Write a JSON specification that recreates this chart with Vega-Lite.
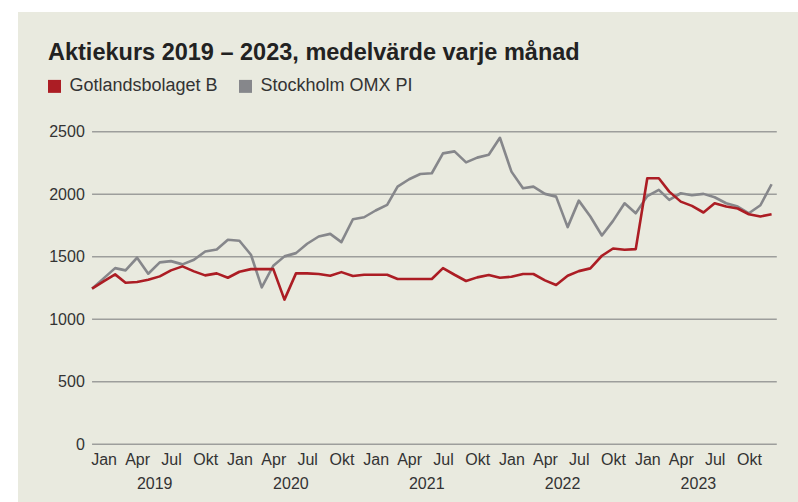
{
  "$schema": "https://vega.github.io/schema/vega-lite/v6.json",
  "width": 780,
  "height": 490,
  "autosize": {"type": "none"},
  "padding": {"left": 18, "top": 12, "right": 0, "bottom": 0},
  "background": "#ffffff",
  "title": {
    "text": "Aktiekurs 2019 – 2023, medelvärde varje månad",
    "anchor": "start",
    "frame": "group",
    "orient": "top",
    "offset": -47,
    "dy": 24,
    "baseline": "alphabetic",
    "dx": 30,
    "font": "Liberation Sans",
    "fontSize": 23.5,
    "fontWeight": "bold",
    "color": "#222222"
  },
  "config": {
    "view": {"fill": "#E9EADF", "stroke": null},
    "font": "Liberation Sans"
  },
  "data": {
    "format": {"parse": {"manad": "date:'%Y-%m'"}},
    "values": [
      {"manad": "2018-12", "serie": "Stockholm OMX PI", "kurs": 1245}, {"manad": "2018-12", "serie": "Gotlandsbolaget B", "kurs": 1245},
      {"manad": "2019-01", "serie": "Stockholm OMX PI", "kurs": 1327}, {"manad": "2019-01", "serie": "Gotlandsbolaget B", "kurs": 1303},
      {"manad": "2019-02", "serie": "Stockholm OMX PI", "kurs": 1409}, {"manad": "2019-02", "serie": "Gotlandsbolaget B", "kurs": 1359},
      {"manad": "2019-03", "serie": "Stockholm OMX PI", "kurs": 1391}, {"manad": "2019-03", "serie": "Gotlandsbolaget B", "kurs": 1292},
      {"manad": "2019-04", "serie": "Stockholm OMX PI", "kurs": 1492}, {"manad": "2019-04", "serie": "Gotlandsbolaget B", "kurs": 1298},
      {"manad": "2019-05", "serie": "Stockholm OMX PI", "kurs": 1364}, {"manad": "2019-05", "serie": "Gotlandsbolaget B", "kurs": 1316},
      {"manad": "2019-06", "serie": "Stockholm OMX PI", "kurs": 1455}, {"manad": "2019-06", "serie": "Gotlandsbolaget B", "kurs": 1343},
      {"manad": "2019-07", "serie": "Stockholm OMX PI", "kurs": 1465}, {"manad": "2019-07", "serie": "Gotlandsbolaget B", "kurs": 1391},
      {"manad": "2019-08", "serie": "Stockholm OMX PI", "kurs": 1439}, {"manad": "2019-08", "serie": "Gotlandsbolaget B", "kurs": 1423},
      {"manad": "2019-09", "serie": "Stockholm OMX PI", "kurs": 1476}, {"manad": "2019-09", "serie": "Gotlandsbolaget B", "kurs": 1383},
      {"manad": "2019-10", "serie": "Stockholm OMX PI", "kurs": 1542}, {"manad": "2019-10", "serie": "Gotlandsbolaget B", "kurs": 1351},
      {"manad": "2019-11", "serie": "Stockholm OMX PI", "kurs": 1558}, {"manad": "2019-11", "serie": "Gotlandsbolaget B", "kurs": 1367},
      {"manad": "2019-12", "serie": "Stockholm OMX PI", "kurs": 1636}, {"manad": "2019-12", "serie": "Gotlandsbolaget B", "kurs": 1332},
      {"manad": "2020-01", "serie": "Stockholm OMX PI", "kurs": 1628}, {"manad": "2020-01", "serie": "Gotlandsbolaget B", "kurs": 1380},
      {"manad": "2020-02", "serie": "Stockholm OMX PI", "kurs": 1516}, {"manad": "2020-02", "serie": "Gotlandsbolaget B", "kurs": 1401},
      {"manad": "2020-03", "serie": "Stockholm OMX PI", "kurs": 1255}, {"manad": "2020-03", "serie": "Gotlandsbolaget B", "kurs": 1401},
      {"manad": "2020-04", "serie": "Stockholm OMX PI", "kurs": 1428}, {"manad": "2020-04", "serie": "Gotlandsbolaget B", "kurs": 1401},
      {"manad": "2020-05", "serie": "Stockholm OMX PI", "kurs": 1503}, {"manad": "2020-05", "serie": "Gotlandsbolaget B", "kurs": 1157},
      {"manad": "2020-06", "serie": "Stockholm OMX PI", "kurs": 1529}, {"manad": "2020-06", "serie": "Gotlandsbolaget B", "kurs": 1367},
      {"manad": "2020-07", "serie": "Stockholm OMX PI", "kurs": 1604}, {"manad": "2020-07", "serie": "Gotlandsbolaget B", "kurs": 1367},
      {"manad": "2020-08", "serie": "Stockholm OMX PI", "kurs": 1662}, {"manad": "2020-08", "serie": "Gotlandsbolaget B", "kurs": 1362},
      {"manad": "2020-09", "serie": "Stockholm OMX PI", "kurs": 1683}, {"manad": "2020-09", "serie": "Gotlandsbolaget B", "kurs": 1348},
      {"manad": "2020-10", "serie": "Stockholm OMX PI", "kurs": 1617}, {"manad": "2020-10", "serie": "Gotlandsbolaget B", "kurs": 1377},
      {"manad": "2020-11", "serie": "Stockholm OMX PI", "kurs": 1800}, {"manad": "2020-11", "serie": "Gotlandsbolaget B", "kurs": 1346},
      {"manad": "2020-12", "serie": "Stockholm OMX PI", "kurs": 1816}, {"manad": "2020-12", "serie": "Gotlandsbolaget B", "kurs": 1356},
      {"manad": "2021-01", "serie": "Stockholm OMX PI", "kurs": 1870}, {"manad": "2021-01", "serie": "Gotlandsbolaget B", "kurs": 1356},
      {"manad": "2021-02", "serie": "Stockholm OMX PI", "kurs": 1915}, {"manad": "2021-02", "serie": "Gotlandsbolaget B", "kurs": 1356},
      {"manad": "2021-03", "serie": "Stockholm OMX PI", "kurs": 2061}, {"manad": "2021-03", "serie": "Gotlandsbolaget B", "kurs": 1322},
      {"manad": "2021-04", "serie": "Stockholm OMX PI", "kurs": 2120}, {"manad": "2021-04", "serie": "Gotlandsbolaget B", "kurs": 1322},
      {"manad": "2021-05", "serie": "Stockholm OMX PI", "kurs": 2162}, {"manad": "2021-05", "serie": "Gotlandsbolaget B", "kurs": 1322},
      {"manad": "2021-06", "serie": "Stockholm OMX PI", "kurs": 2168}, {"manad": "2021-06", "serie": "Gotlandsbolaget B", "kurs": 1322},
      {"manad": "2021-07", "serie": "Stockholm OMX PI", "kurs": 2327}, {"manad": "2021-07", "serie": "Gotlandsbolaget B", "kurs": 1409},
      {"manad": "2021-08", "serie": "Stockholm OMX PI", "kurs": 2343}, {"manad": "2021-08", "serie": "Gotlandsbolaget B", "kurs": 1356},
      {"manad": "2021-09", "serie": "Stockholm OMX PI", "kurs": 2255}, {"manad": "2021-09", "serie": "Gotlandsbolaget B", "kurs": 1306},
      {"manad": "2021-10", "serie": "Stockholm OMX PI", "kurs": 2293}, {"manad": "2021-10", "serie": "Gotlandsbolaget B", "kurs": 1335},
      {"manad": "2021-11", "serie": "Stockholm OMX PI", "kurs": 2316}, {"manad": "2021-11", "serie": "Gotlandsbolaget B", "kurs": 1354},
      {"manad": "2021-12", "serie": "Stockholm OMX PI", "kurs": 2452}, {"manad": "2021-12", "serie": "Gotlandsbolaget B", "kurs": 1332},
      {"manad": "2022-01", "serie": "Stockholm OMX PI", "kurs": 2181}, {"manad": "2022-01", "serie": "Gotlandsbolaget B", "kurs": 1340},
      {"manad": "2022-02", "serie": "Stockholm OMX PI", "kurs": 2048}, {"manad": "2022-02", "serie": "Gotlandsbolaget B", "kurs": 1362},
      {"manad": "2022-03", "serie": "Stockholm OMX PI", "kurs": 2061}, {"manad": "2022-03", "serie": "Gotlandsbolaget B", "kurs": 1362},
      {"manad": "2022-04", "serie": "Stockholm OMX PI", "kurs": 2003}, {"manad": "2022-04", "serie": "Gotlandsbolaget B", "kurs": 1311},
      {"manad": "2022-05", "serie": "Stockholm OMX PI", "kurs": 1981}, {"manad": "2022-05", "serie": "Gotlandsbolaget B", "kurs": 1274},
      {"manad": "2022-06", "serie": "Stockholm OMX PI", "kurs": 1737}, {"manad": "2022-06", "serie": "Gotlandsbolaget B", "kurs": 1348},
      {"manad": "2022-07", "serie": "Stockholm OMX PI", "kurs": 1949}, {"manad": "2022-07", "serie": "Gotlandsbolaget B", "kurs": 1385},
      {"manad": "2022-08", "serie": "Stockholm OMX PI", "kurs": 1822}, {"manad": "2022-08", "serie": "Gotlandsbolaget B", "kurs": 1407},
      {"manad": "2022-09", "serie": "Stockholm OMX PI", "kurs": 1670}, {"manad": "2022-09", "serie": "Gotlandsbolaget B", "kurs": 1508},
      {"manad": "2022-10", "serie": "Stockholm OMX PI", "kurs": 1787}, {"manad": "2022-10", "serie": "Gotlandsbolaget B", "kurs": 1566},
      {"manad": "2022-11", "serie": "Stockholm OMX PI", "kurs": 1928}, {"manad": "2022-11", "serie": "Gotlandsbolaget B", "kurs": 1556},
      {"manad": "2022-12", "serie": "Stockholm OMX PI", "kurs": 1848}, {"manad": "2022-12", "serie": "Gotlandsbolaget B", "kurs": 1561},
      {"manad": "2023-01", "serie": "Stockholm OMX PI", "kurs": 1985}, {"manad": "2023-01", "serie": "Gotlandsbolaget B", "kurs": 2128},
      {"manad": "2023-02", "serie": "Stockholm OMX PI", "kurs": 2035}, {"manad": "2023-02", "serie": "Gotlandsbolaget B", "kurs": 2128},
      {"manad": "2023-03", "serie": "Stockholm OMX PI", "kurs": 1955}, {"manad": "2023-03", "serie": "Gotlandsbolaget B", "kurs": 2021},
      {"manad": "2023-04", "serie": "Stockholm OMX PI", "kurs": 2008}, {"manad": "2023-04", "serie": "Gotlandsbolaget B", "kurs": 1941},
      {"manad": "2023-05", "serie": "Stockholm OMX PI", "kurs": 1992}, {"manad": "2023-05", "serie": "Gotlandsbolaget B", "kurs": 1907},
      {"manad": "2023-06", "serie": "Stockholm OMX PI", "kurs": 2003}, {"manad": "2023-06", "serie": "Gotlandsbolaget B", "kurs": 1854},
      {"manad": "2023-07", "serie": "Stockholm OMX PI", "kurs": 1976}, {"manad": "2023-07", "serie": "Gotlandsbolaget B", "kurs": 1928},
      {"manad": "2023-08", "serie": "Stockholm OMX PI", "kurs": 1928}, {"manad": "2023-08", "serie": "Gotlandsbolaget B", "kurs": 1902},
      {"manad": "2023-09", "serie": "Stockholm OMX PI", "kurs": 1902}, {"manad": "2023-09", "serie": "Gotlandsbolaget B", "kurs": 1886},
      {"manad": "2023-10", "serie": "Stockholm OMX PI", "kurs": 1848}, {"manad": "2023-10", "serie": "Gotlandsbolaget B", "kurs": 1840},
      {"manad": "2023-11", "serie": "Stockholm OMX PI", "kurs": 1912}, {"manad": "2023-11", "serie": "Gotlandsbolaget B", "kurs": 1822},
      {"manad": "2023-12", "serie": "Stockholm OMX PI", "kurs": 2080}, {"manad": "2023-12", "serie": "Gotlandsbolaget B", "kurs": 1840}
    ]
  },
  "layer": [
    {
      "data": {"values": [{"v": 0}, {"v": 500}, {"v": 1000}, {"v": 1500}, {"v": 2000}, {"v": 2500}]},
      "mark": {"type": "rule", "color": "#9D9E9C", "strokeWidth": 1.3},
      "encoding": {
        "x": {"datum": {"year": 2018, "month": 12, "date": 1}, "type": "temporal", "axis": null,
              "scale": {"domain": [{"year": 2018, "month": 5, "date": 16}, {"year": 2024, "month": 2, "date": 10}]}},
        "x2": {"datum": {"year": 2023, "month": 12, "date": 15}},
        "y": {"field": "v", "type": "quantitative",
              "scale": {"domain": [-462, 3458], "nice": false, "zero": false},
              "axis": {"title": null, "orient": "left", "offset": -74.3, "values": [0, 500, 1000, 1500, 2000, 2500],
                       "ticks": false, "tickSize": 0, "domain": false, "grid": false, "labelPadding": 8,
                       "labelFontSize": 16, "labelColor": "#333333", "labelFont": "Liberation Sans", "format": "d"}}
      }
    },
    {
      "mark": {"type": "point", "opacity": 0},
      "encoding": {
        "x": {"field": "manad", "type": "temporal",
              "scale": {"domain": [{"year": 2018, "month": 5, "date": 16}, {"year": 2024, "month": 2, "date": 10}]},
              "axis": {"title": null, "orient": "bottom", "offset": -57.8, "format": "%Y",
                       "values": [{"year": 2019, "month": 5, "date": 17}, {"year": 2020, "month": 5, "date": 17}, {"year": 2021, "month": 5, "date": 17}, {"year": 2022, "month": 5, "date": 17}, {"year": 2023, "month": 5, "date": 17}],
                       "ticks": false, "tickSize": 0, "domain": false, "grid": false, "labelPadding": 31,
                       "labelFontSize": 16, "labelColor": "#333333", "labelFont": "Liberation Sans", "labelFlush": false, "labelOverlap": false}},
        "y": {"field": "kurs", "type": "quantitative", "scale": {"domain": [-462, 3458], "nice": false, "zero": false}}
      }
    },
    {
      "transform": [{"filter": "datum.serie === 'Stockholm OMX PI'"}],
      "mark": {"type": "line", "strokeWidth": 2.6, "strokeJoin": "round"},
      "encoding": {
        "x": {"field": "manad", "type": "temporal",
              "scale": {"domain": [{"year": 2018, "month": 5, "date": 16}, {"year": 2024, "month": 2, "date": 10}]},
              "axis": {"title": null, "orient": "bottom", "offset": -57.8,
                       "values": [{"year": 2019, "month": 1, "date": 1}, {"year": 2019, "month": 4, "date": 1}, {"year": 2019, "month": 7, "date": 1}, {"year": 2019, "month": 10, "date": 1},
                                  {"year": 2020, "month": 1, "date": 1}, {"year": 2020, "month": 4, "date": 1}, {"year": 2020, "month": 7, "date": 1}, {"year": 2020, "month": 10, "date": 1},
                                  {"year": 2021, "month": 1, "date": 1}, {"year": 2021, "month": 4, "date": 1}, {"year": 2021, "month": 7, "date": 1}, {"year": 2021, "month": 10, "date": 1},
                                  {"year": 2022, "month": 1, "date": 1}, {"year": 2022, "month": 4, "date": 1}, {"year": 2022, "month": 7, "date": 1}, {"year": 2022, "month": 10, "date": 1},
                                  {"year": 2023, "month": 1, "date": 1}, {"year": 2023, "month": 4, "date": 1}, {"year": 2023, "month": 7, "date": 1}, {"year": 2023, "month": 10, "date": 1}],
                       "labelExpr": "['Jan','Feb','Mar','Apr','Maj','Jun','Jul','Aug','Sep','Okt','Nov','Dec'][month(datum.value)]",
                       "ticks": false, "tickSize": 0, "domain": false, "grid": false, "labelPadding": 7.5,
                       "labelFontSize": 16, "labelColor": "#333333", "labelFont": "Liberation Sans", "labelFlush": false, "labelOverlap": false}},
        "y": {"field": "kurs", "type": "quantitative", "scale": {"domain": [-462, 3458], "nice": false, "zero": false}},
        "color": {"field": "serie", "type": "nominal",
                  "scale": {"domain": ["Gotlandsbolaget B", "Stockholm OMX PI"], "range": ["#AC1D24", "#86878B"]},
                  "legend": {"title": null, "orient": "none", "legendX": 27.5, "legendY": 65, "direction": "horizontal",
                             "symbolType": "square", "symbolSize": 42, "symbolStrokeWidth": 6.5, "symbolOpacity": 1,
                             "labelFontSize": 18, "labelColor": "#333333", "labelFont": "Liberation Sans",
                             "labelOffset": 6, "columnPadding": 10, "padding": 0}}
      }
    },
    {
      "transform": [{"filter": "datum.serie === 'Gotlandsbolaget B'"}],
      "mark": {"type": "line", "strokeWidth": 2.6, "strokeJoin": "round"},
      "encoding": {
        "x": {"field": "manad", "type": "temporal", "axis": null,
              "scale": {"domain": [{"year": 2018, "month": 5, "date": 16}, {"year": 2024, "month": 2, "date": 10}]}},
        "y": {"field": "kurs", "type": "quantitative", "scale": {"domain": [-462, 3458], "nice": false, "zero": false}},
        "color": {"field": "serie", "type": "nominal",
                  "scale": {"domain": ["Gotlandsbolaget B", "Stockholm OMX PI"], "range": ["#AC1D24", "#86878B"]}}
      }
    }
  ],
  "resolve": {"axis": {"x": "independent"}}
}
